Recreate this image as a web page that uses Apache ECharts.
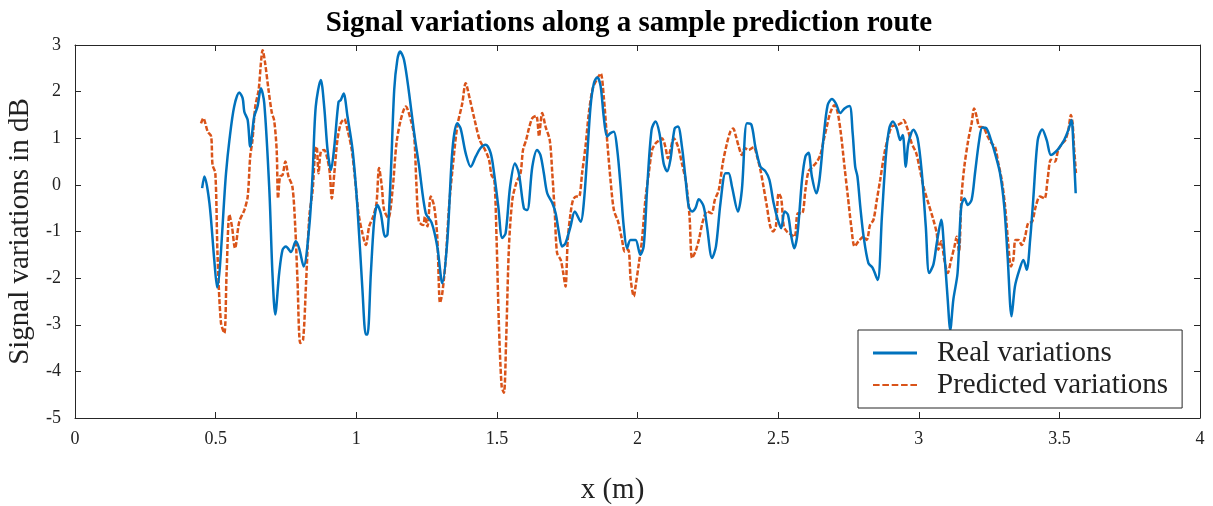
<!DOCTYPE html>
<html>
<head>
<meta charset="utf-8">
<script src="https://cdn.jsdelivr.net/npm/echarts@6/dist/echarts.min.js"></script>
<style>html,body{margin:0;padding:0;background:#fff}#chart{width:1213px;height:506px}</style>
</head>
<body>
<div id="chart"></div>
<script>
const realX = [0.452,0.460,0.478,0.495,0.505,0.537,0.549,0.566,0.584,0.596,0.602,0.614,0.623,0.637,0.649,0.661,0.673,0.691,0.702,0.712,0.726,0.738,0.750,0.768,0.785,0.797,0.813,0.833,0.845,0.856,0.874,0.886,0.898,0.910,0.922,0.937,0.945,0.955,0.969,0.987,1.004,1.022,1.034,1.040,1.052,1.064,1.075,1.087,1.103,1.111,1.123,1.135,1.146,1.156,1.170,1.188,1.206,1.223,1.247,1.268,1.288,1.306,1.324,1.342,1.359,1.371,1.389,1.407,1.425,1.442,1.460,1.478,1.490,1.505,1.519,1.531,1.547,1.564,1.578,1.596,1.608,1.626,1.643,1.655,1.667,1.679,1.697,1.709,1.721,1.732,1.744,1.762,1.777,1.798,1.809,1.821,1.833,1.845,1.857,1.869,1.880,1.892,1.904,1.916,1.928,1.940,1.951,1.963,1.975,1.993,2.010,2.022,2.034,2.050,2.064,2.078,2.093,2.105,2.117,2.132,2.144,2.158,2.170,2.182,2.194,2.206,2.218,2.235,2.247,2.265,2.279,2.295,2.313,2.324,2.336,2.357,2.371,2.389,2.405,2.419,2.437,2.455,2.469,2.484,2.499,2.511,2.523,2.535,2.547,2.557,2.569,2.585,2.597,2.608,2.620,2.636,2.647,2.662,2.676,2.691,2.705,2.721,2.736,2.754,2.765,2.774,2.782,2.792,2.804,2.821,2.836,2.854,2.869,2.883,2.895,2.908,2.922,2.934,2.943,2.954,2.963,2.981,2.996,3.011,3.025,3.037,3.052,3.064,3.080,3.091,3.103,3.112,3.123,3.138,3.151,3.163,3.174,3.188,3.200,3.215,3.226,3.241,3.257,3.271,3.289,3.304,3.316,3.330,3.342,3.358,3.372,3.384,3.396,3.407,3.423,3.439,3.455,3.470,3.487,3.502,3.517,3.532,3.543,3.550,3.558];
const realY = [-0.07,0.18,-0.39,-1.60,-2.20,0.25,0.96,1.68,1.98,1.86,1.57,1.39,0.82,1.46,1.68,2.07,1.75,-0.11,-1.89,-2.78,-1.89,-1.39,-1.32,-1.44,-1.21,-1.36,-1.75,-0.89,0.25,1.68,2.25,1.68,0.75,0.32,0.82,1.78,1.82,1.96,1.46,0.75,-0.46,-2.25,-3.21,-3.21,-1.89,-0.75,-0.43,-0.61,-1.11,-1.07,0.25,2.04,2.68,2.86,2.68,1.96,1.11,0.42,-0.61,-0.81,-1.32,-2.11,-1.18,0.75,1.32,1.21,0.68,0.39,0.61,0.79,0.86,0.68,0.25,-0.46,-1.14,-1.04,-0.04,0.46,0.25,-0.50,-0.54,0.39,0.75,0.64,0.25,-0.18,-0.39,-0.61,-1.04,-1.32,-1.25,-0.89,-0.57,-0.79,-0.39,0.61,1.68,2.18,2.31,2.11,1.46,1.04,1.11,1.14,0.75,-0.04,-0.89,-1.36,-1.18,-1.18,-1.50,-1.32,-0.11,1.18,1.36,1.11,0.46,0.29,0.54,1.21,1.25,0.82,0.18,-0.46,-0.57,-0.50,-0.31,-0.46,-0.89,-1.57,-1.32,-0.39,0.25,0.25,-0.04,-0.57,-0.11,1.32,1.29,0.82,0.39,0.29,0.11,-0.39,-0.75,-0.93,-0.57,-0.64,-1.11,-1.36,-1.04,0.11,0.61,0.69,0.18,-0.18,0.11,1.04,1.71,1.84,1.75,1.54,1.64,1.69,1.11,0.39,0.18,-0.46,-1.11,-1.68,-1.78,-2.04,-0.68,0.61,1.21,1.36,1.21,0.96,1.07,0.39,0.89,1.18,1.00,0.25,-0.89,-1.89,-1.71,-1.25,-0.75,-1.46,-2.46,-3.11,-2.46,-1.89,-0.46,-0.29,-0.43,-0.32,0.25,0.96,1.23,1.21,0.96,0.68,0.25,-0.46,-1.54,-2.82,-2.18,-1.82,-1.61,-1.82,-1.18,-0.32,0.96,1.19,0.96,0.64,0.71,0.82,0.96,1.18,1.39,0.82,-0.18];

const predX = [0.448,0.456,0.472,0.484,0.489,0.499,0.507,0.519,0.531,0.539,0.549,0.558,0.569,0.584,0.602,0.614,0.623,0.631,0.641,0.653,0.661,0.667,0.676,0.688,0.700,0.708,0.717,0.722,0.729,0.738,0.748,0.759,0.773,0.783,0.791,0.801,0.811,0.821,0.833,0.845,0.854,0.859,0.866,0.874,0.886,0.898,0.906,0.913,0.922,0.933,0.945,0.957,0.969,0.984,0.996,1.008,1.022,1.034,1.046,1.060,1.072,1.081,1.091,1.099,1.114,1.129,1.143,1.158,1.176,1.194,1.206,1.214,1.223,1.238,1.244,1.253,1.265,1.277,1.288,1.298,1.306,1.318,1.330,1.342,1.359,1.377,1.389,1.403,1.421,1.439,1.458,1.472,1.481,1.491,1.499,1.507,1.517,1.525,1.533,1.543,1.555,1.569,1.584,1.593,1.604,1.614,1.626,1.640,1.650,1.656,1.661,1.673,1.688,1.697,1.706,1.714,1.727,1.736,1.744,1.752,1.762,1.771,1.782,1.792,1.803,1.815,1.827,1.841,1.857,1.869,1.880,1.892,1.904,1.916,1.931,1.945,1.955,1.967,1.976,1.987,1.993,2.005,2.016,2.028,2.040,2.052,2.064,2.078,2.087,2.099,2.108,2.117,2.129,2.144,2.158,2.173,2.185,2.194,2.206,2.218,2.232,2.247,2.263,2.275,2.289,2.303,2.318,2.330,2.340,2.350,2.360,2.371,2.381,2.395,2.413,2.425,2.437,2.448,2.460,2.472,2.482,2.492,2.502,2.511,2.520,2.531,2.547,2.559,2.570,2.585,2.597,2.608,2.623,2.638,2.650,2.662,2.673,2.685,2.700,2.711,2.723,2.736,2.748,2.760,2.772,2.786,2.804,2.815,2.827,2.839,2.851,2.863,2.878,2.892,2.904,2.922,2.937,2.946,2.961,2.975,2.991,3.002,3.017,3.034,3.052,3.064,3.070,3.080,3.091,3.103,3.115,3.127,3.135,3.143,3.152,3.162,3.176,3.188,3.197,3.206,3.215,3.230,3.245,3.259,3.271,3.283,3.295,3.307,3.318,3.328,3.336,3.344,3.354,3.366,3.378,3.389,3.403,3.416,3.431,3.447,3.458,3.470,3.484,3.496,3.510,3.521,3.532,3.541,3.547,3.552,3.559];
const predY = [1.32,1.43,1.14,1.04,0.43,0.25,-1.54,-2.96,-3.18,-1.89,-0.64,-0.89,-1.36,-0.79,-0.54,-0.25,0.61,0.96,1.68,2.04,2.61,2.89,2.61,2.04,1.54,1.39,0.75,-0.29,0.18,0.21,0.50,0.18,-0.04,-0.89,-2.04,-3.39,-3.32,-2.18,-0.68,-0.11,0.75,0.82,0.25,0.71,0.75,0.54,0.25,-0.29,0.25,0.96,1.32,1.41,1.18,0.75,0.11,-0.61,-1.04,-1.29,-0.89,-0.68,-0.39,0.36,-0.04,-0.54,-0.71,-0.11,0.89,1.39,1.68,1.39,1.04,0.0,-0.79,-0.86,-0.68,-0.89,-0.25,-0.46,-1.11,-2.53,-2.32,-1.61,-0.46,0.32,1.25,1.75,2.18,1.86,1.39,0.96,0.75,0.54,0.21,0.11,-1.18,-2.96,-4.32,-4.46,-3.32,-1.32,-0.32,0.04,0.25,0.75,0.96,1.21,1.43,1.48,1.04,1.36,1.54,1.25,0.96,0.25,-0.61,-1.46,-1.61,-1.89,-2.18,-1.18,-0.61,-0.32,-0.25,-0.25,0.25,0.82,1.54,2.07,2.28,2.39,1.89,0.96,0.11,-0.54,-0.79,-1.18,-1.43,-1.39,-2.04,-2.39,-2.18,-1.68,-1.18,-0.32,0.25,0.75,0.89,0.96,1.00,0.82,0.57,0.75,1.00,0.82,0.46,0.04,-0.68,-1.57,-1.43,-1.18,-0.79,-0.57,-0.61,-0.32,-0.11,0.46,0.89,1.14,1.21,1.04,0.82,0.64,0.79,0.75,0.81,0.61,0.32,-0.04,-0.46,-0.89,-1.00,-0.89,-0.18,-0.29,-0.89,-1.00,-1.07,-1.11,-0.61,-0.61,-0.11,0.29,0.39,0.50,0.64,0.96,1.25,1.54,1.71,1.57,1.11,0.39,-0.25,-0.89,-1.32,-1.21,-1.11,-1.18,-0.86,-0.75,-0.32,0.11,0.68,1.04,1.25,1.28,1.32,1.39,1.18,0.89,0.68,0.39,-0.04,-0.39,-0.75,-1.04,-1.39,-1.21,-1.61,-1.89,-1.61,-1.32,-1.11,-1.43,-0.25,0.39,0.96,1.32,1.64,1.46,1.25,1.23,1.04,0.89,0.82,0.46,0.11,-0.46,-1.25,-1.75,-1.61,-1.18,-1.18,-1.29,-1.11,-0.82,-0.79,-0.46,-0.25,-0.29,0.11,0.54,0.50,0.75,0.89,0.96,1.18,1.50,1.32,0.82,0.25];

const xTicks = {min: 0, max: 4, interval: 0.5};
const yTicks = {min: -5, max: 3, interval: 1};
const titleText = 'Signal variations along a sample prediction route';
const seriesNames = ['Real variations', 'Predicted variations'];

const zip = (a, b) => a.map((v, i) => [v, b[i]]);
const FONT = '"Liberation Serif", "Times New Roman", serif';
const AX = '#262626';
const BLUE = '#0072BD';
const ORANGE = '#D95319';
const dashIcon = 'path://M0 0h6v2h-6z M8.5 0h6v2h-6z M17 0h6v2h-6z M25.5 0h6v2h-6z M34 0h6v2h-6z';

const chart = echarts.init(document.getElementById('chart'), null, {renderer: 'canvas'});
const baseX = {
  type: 'value', min: xTicks.min, max: xTicks.max, interval: xTicks.interval,
  axisLine: {show: true, onZero: false, lineStyle: {color: AX, width: 1}},
  axisTick: {show: true, inside: true, length: 6, lineStyle: {color: AX}},
  splitLine: {show: false}
};
const baseY = {
  type: 'value', min: yTicks.min, max: yTicks.max, interval: yTicks.interval,
  axisLine: {show: true, onZero: false, lineStyle: {color: AX, width: 1}},
  axisTick: {show: true, inside: true, length: 6, lineStyle: {color: AX}},
  splitLine: {show: false}
};
chart.setOption({
  animation: false,
  backgroundColor: '#fff',
  title: {
    text: titleText, left: 624, textAlign: 'center', top: 4,
    textStyle: {fontFamily: FONT, fontWeight: 'bold', fontSize: 29, color: '#000'}
  },
  grid: {left: 75, right: 13, top: 45, bottom: 88, containLabel: false, outerBoundsMode: 'none'},
  legend: {
    orient: 'vertical', left: 858, top: 330,
    backgroundColor: '#fff', borderColor: AX, borderWidth: 1,
    padding: [8, 14, 8, 15], itemGap: 2, itemWidth: 44, itemHeight: 3,
    textStyle: {fontFamily: FONT, fontSize: 29, lineHeight: 30, color: '#222', padding: [0, 0, 0, 15]},
    data: [
      {name: seriesNames[0], icon: 'rect', itemStyle: {color: BLUE}},
      {name: seriesNames[1], icon: dashIcon, itemStyle: {color: ORANGE}}
    ]
  },
  xAxis: [
    Object.assign({}, baseX, {
      position: 'bottom',
      axisLabel: {fontFamily: FONT, fontSize: 18, color: '#222', margin: 12},
      name: 'x (m)', nameLocation: 'middle', nameGap: 58,
      nameTextStyle: {fontFamily: FONT, fontSize: 29, color: '#222', padding: [0, 50, 0, 0]}
    }),
    Object.assign({}, baseX, {position: 'top', axisLabel: {show: false}})
  ],
  yAxis: [
    Object.assign({}, baseY, {
      position: 'left',
      axisLabel: {fontFamily: FONT, fontSize: 18, color: '#222', margin: 14},
      name: 'Signal variations in dB', nameLocation: 'middle', nameGap: 38,
      nameTextStyle: {fontFamily: FONT, fontSize: 29, color: '#222'}
    }),
    Object.assign({}, baseY, {position: 'right', axisLabel: {show: false}})
  ],
  series: [
    {
      name: seriesNames[0], type: 'line', data: zip(realX, realY),
      showSymbol: false, symbol: 'none', smooth: 0.3,
      lineStyle: {color: BLUE, width: 2.5}, itemStyle: {color: BLUE}, z: 3
    },
    {
      name: seriesNames[1], type: 'line', data: zip(predX, predY),
      showSymbol: false, symbol: 'none', smooth: 0.3,
      lineStyle: {color: ORANGE, width: 2.5, type: [5, 2]}, itemStyle: {color: ORANGE}, z: 2
    }
  ]
});
</script>
</body>
</html>
